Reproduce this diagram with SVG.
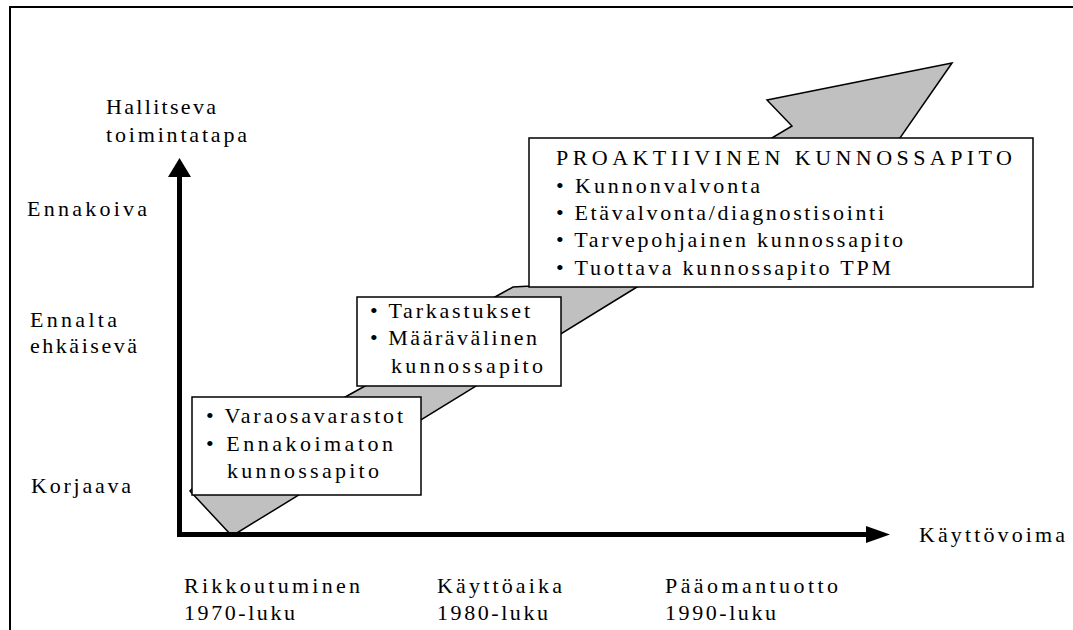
<svg xmlns="http://www.w3.org/2000/svg" width="1073" height="630" viewBox="0 0 1073 630">
<style>
text{font-family:"Liberation Serif","Times New Roman",serif;font-size:22px;fill:#000}
.box{fill:#fff;stroke:#000;stroke-width:1.5}
.band{fill:#c0c0c0;stroke:#000;stroke-width:1.5;stroke-linejoin:miter}
.axis{stroke:#000;stroke-width:5;fill:none}
</style>
<rect width="1073" height="630" fill="#fff"/>
<g id="frame">
<line x1="9" y1="7" x2="1073" y2="7" stroke="#000" stroke-width="2"/>
<line x1="10" y1="6" x2="10" y2="630" stroke="#000" stroke-width="2"/>
</g>
<g id="band">
<polygon class="band" points="952,63 767,100 792,126 560,265 531,286 513,287 495,297 365,386 347,396 200,480 190,491 232,536 637,287 900,138"/>
</g>
<g id="connectors">
<line class="axis" x1="179.5" y1="175" x2="179.5" y2="537"/>
<polygon points="179.5,158 168,177 191,177" fill="#000"/>
<line class="axis" x1="177" y1="534.5" x2="868" y2="534.5"/>
<polygon points="890,534.5 866,526 866,543" fill="#000"/>
</g>
<g id="axis-labels">
<text x="106" y="114" textLength="110" lengthAdjust="spacing">Hallitseva</text>
<text x="106" y="142" textLength="141" lengthAdjust="spacing">toimintatapa</text>
<text x="27" y="216" textLength="120" lengthAdjust="spacing">Ennakoiva</text>
<text x="30" y="327" textLength="87" lengthAdjust="spacing">Ennalta</text>
<text x="30" y="353" textLength="107" lengthAdjust="spacing">ehkäisevä</text>
<text x="31" y="493" textLength="100" lengthAdjust="spacing">Korjaava</text>
<text x="919" y="542" textLength="146" lengthAdjust="spacing">Käyttövoima</text>
<text x="184" y="593" textLength="176" lengthAdjust="spacing">Rikkoutuminen</text>
<text x="184" y="620" textLength="111" lengthAdjust="spacing">1970-luku</text>
<text x="437" y="593" textLength="125" lengthAdjust="spacing">Käyttöaika</text>
<text x="437" y="620" textLength="111" lengthAdjust="spacing">1980-luku</text>
<text x="665" y="593" textLength="173" lengthAdjust="spacing">Pääomantuotto</text>
<text x="665" y="620" textLength="111" lengthAdjust="spacing">1990-luku</text>
</g>
<g id="box-korjaava">
<rect class="box" x="192" y="397" width="229" height="98"/>
<text x="206" y="423" textLength="197" lengthAdjust="spacing">• Varaosavarastot</text>
<text x="206" y="451" textLength="187" lengthAdjust="spacing">• Ennakoimaton</text>
<text x="227" y="478" textLength="152" lengthAdjust="spacing">kunnossapito</text>
</g>
<g id="box-ennaltaehkaiseva">
<rect class="box" x="357" y="297" width="204" height="89"/>
<text x="370" y="318" textLength="160" lengthAdjust="spacing">• Tarkastukset</text>
<text x="370" y="345" textLength="167" lengthAdjust="spacing">• Määrävälinen</text>
<text x="391" y="373" textLength="152" lengthAdjust="spacing">kunnossapito</text>
</g>
<g id="box-proaktiivinen">
<rect class="box" x="529" y="138" width="504" height="149"/>
<text x="556" y="165" textLength="456" lengthAdjust="spacing">PROAKTIIVINEN KUNNOSSAPITO</text>
<text x="556" y="193" textLength="204" lengthAdjust="spacing">• Kunnonvalvonta</text>
<text x="556" y="220" textLength="328" lengthAdjust="spacing">• Etävalvonta/diagnostisointi</text>
<text x="556" y="247" textLength="347" lengthAdjust="spacing">• Tarvepohjainen kunnossapito</text>
<text x="556" y="275" textLength="335" lengthAdjust="spacing">• Tuottava kunnossapito TPM</text>
</g>
</svg>
